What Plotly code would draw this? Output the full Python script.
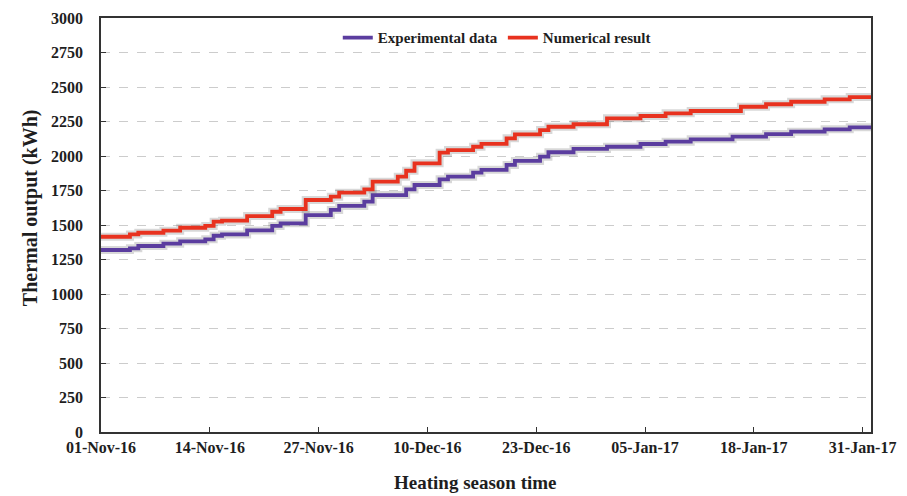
import plotly.graph_objects as go
import pandas as pd

# ---- data (step changes, cumulative kWh) ----
exp_dates = ["2016-11-01", "2016-11-04", "2016-11-05", "2016-11-08", "2016-11-10",
             "2016-11-13", "2016-11-14", "2016-11-15", "2016-11-18", "2016-11-21",
             "2016-11-22", "2016-11-25", "2016-11-28", "2016-11-29", "2016-12-02",
             "2016-12-03", "2016-12-07", "2016-12-08", "2016-12-11", "2016-12-12",
             "2016-12-15", "2016-12-16", "2016-12-19", "2016-12-20", "2016-12-23",
             "2016-12-24", "2016-12-27", "2016-12-31", "2017-01-04", "2017-01-07",
             "2017-01-10", "2017-01-15", "2017-01-19", "2017-01-22", "2017-01-26",
             "2017-01-29"]
exp_values = [1319, 1331, 1348, 1365, 1382,
              1396, 1422, 1432, 1461, 1493,
              1512, 1572, 1609, 1638, 1669,
              1717, 1758, 1790, 1831, 1850,
              1879, 1900, 1935, 1964, 1995,
              2027, 2051, 2067, 2087, 2104,
              2121, 2140, 2159, 2176, 2193,
              2208]

num_dates = ["2016-11-01", "2016-11-04", "2016-11-05", "2016-11-08", "2016-11-10",
             "2016-11-13", "2016-11-14", "2016-11-15", "2016-11-18", "2016-11-21",
             "2016-11-22", "2016-11-25", "2016-11-28", "2016-11-29", "2016-12-02",
             "2016-12-03", "2016-12-06", "2016-12-07", "2016-12-08", "2016-12-11",
             "2016-12-12", "2016-12-15", "2016-12-16", "2016-12-19", "2016-12-20",
             "2016-12-23", "2016-12-24", "2016-12-27", "2016-12-31", "2017-01-04",
             "2017-01-07", "2017-01-10", "2017-01-16", "2017-01-19", "2017-01-22",
             "2017-01-26", "2017-01-29"]
num_values = [1415, 1432, 1444, 1459, 1480,
              1493, 1524, 1531, 1565, 1596,
              1616, 1681, 1705, 1734, 1758,
              1814, 1850, 1893, 1947, 2024,
              2043, 2067, 2088, 2128, 2157,
              2188, 2212, 2230, 2273, 2290,
              2309, 2326, 2357, 2375, 2393,
              2411, 2427]

tick_dates = ["2016-11-01", "2016-11-14", "2016-11-27", "2016-12-10",
              "2016-12-23", "2017-01-05", "2017-01-18", "2017-01-31"]
y_ticks = list(range(0, 3001, 250))

series_names = ["Experimental data", "Numerical result"]
series_colors = ["#5b3d9f", "#e8321f"]

start = pd.Timestamp("2016-11-01")
end = pd.Timestamp("2017-02-01")


def step_series(dates, values):
    ts = [pd.Timestamp(d) for d in dates]
    ts = [ts[0]] + [t + pd.Timedelta(hours=11) for t in ts[1:]] + [end]
    vs = list(values) + [values[-1]]
    return ts, vs


FONT = "Liberation Serif, Times New Roman, serif"
TXT = "#1e1e1e"
fig = go.Figure()

for dates, vals, name, col in [(exp_dates, exp_values, series_names[0], series_colors[0]),
                               (num_dates, num_values, series_names[1], series_colors[1])]:
    x, y = step_series(dates, vals)
    fig.add_trace(go.Scatter(x=x, y=y, mode="lines", line=dict(shape="hv", width=8,
                             color="rgba(60,60,60,0.2)"), showlegend=False, hoverinfo="skip"))
    fig.add_trace(go.Scatter(x=x, y=y, mode="lines", name=name,
                             line=dict(shape="hv", width=3.8, color=col)))

fig.update_layout(
    width=899, height=487,
    margin=dict(l=93, r=36, t=10, b=63, autoexpand=False),
    paper_bgcolor="white", plot_bgcolor="white",
    font=dict(family=FONT, size=15, color=TXT),
    showlegend=True,
    legend=dict(orientation="h", x=0.514, xanchor="center", y=0.952, yanchor="middle",
                font=dict(family=FONT, size=15, color=TXT, weight="bold"),
                bgcolor="rgba(0,0,0,0)", itemwidth=30),
    xaxis=dict(type="date", range=[start, end], automargin=False,
               tickvals=[pd.Timestamp(d) for d in tick_dates],
               ticktext=[pd.Timestamp(d).strftime("%d-%b-%y") for d in tick_dates],
               ticks="inside", ticklen=5, tickcolor="#333333",
               showline=True, linecolor="#333333", linewidth=1.5, mirror=True,
               showgrid=False, zeroline=False,
               tickfont=dict(family=FONT, size=16, color=TXT, weight="bold")),
    yaxis=dict(range=[0, 3000], tickvals=y_ticks, automargin=False,
               ticks="inside", ticklen=5, tickcolor="#333333",
               showline=True, linecolor="#333333", linewidth=1.5, mirror=True,
               showgrid=True, gridcolor="#cccccc", griddash="dash", gridwidth=1,
               zeroline=False, ticklabelstandoff=13,
               tickfont=dict(family=FONT, size=16, color=TXT, weight="bold")),
    annotations=[
        dict(text="Thermal output (kWh)", xref="paper", yref="paper",
             x=-0.092, y=0.541, xanchor="center", yanchor="middle", textangle=-90,
             showarrow=False, font=dict(family=FONT, size=20, color=TXT, weight="bold")),
        dict(text="Heating season time", xref="paper", yref="paper",
             x=0.486, y=-0.123, xanchor="center", yanchor="middle",
             showarrow=False, font=dict(family=FONT, size=19, color=TXT, weight="bold")),
    ],
)

fig.write_html("out.html")
